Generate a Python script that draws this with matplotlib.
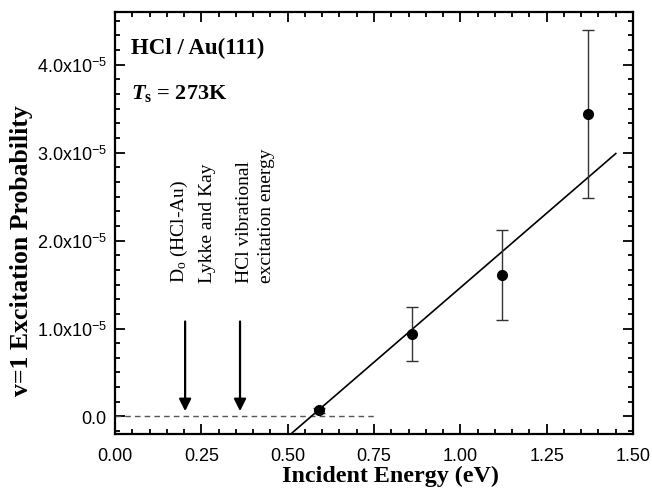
import numpy as np
import matplotlib
matplotlib.use('Agg')
import matplotlib.pyplot as plt
from matplotlib.ticker import MultipleLocator, FixedLocator

plt.rcParams['mathtext.fontset'] = 'custom'
plt.rcParams['mathtext.rm'] = 'Liberation Serif'
plt.rcParams['mathtext.it'] = 'Liberation Serif:italic:bold'
plt.rcParams['mathtext.bf'] = 'Liberation Serif:bold'
plt.rcParams['mathtext.sf'] = 'Liberation Sans'

# data
energy = [0.59, 0.86, 1.12, 1.37]
prob = [0.07e-5, 0.94e-5, 1.61e-5, 3.44e-5]
prob_err = [0.03e-5, 0.31e-5, 0.51e-5, 0.96e-5]

fit_x = [0.50, 1.45]
fit_slope = 3.39e-5
fit_x0 = 0.568

zero_x = [0.0, 0.75]
zero_y = [0.0, 0.0]

arrow_x = [0.203, 0.362]
arrow_top = 1.08e-5
arrow_tip = 0.06e-5

xticks = [0.0, 0.25, 0.5, 0.75, 1.0, 1.25, 1.5]
xtick_labels = ['0.00', '0.25', '0.50', '0.75', '1.00', '1.25', '1.50']
yticks = [0.0, 1e-5, 2e-5, 3e-5, 4e-5]
ytick_labels = ['0.0', r'1.0x10$^{\mathsf{-5}}$', r'2.0x10$^{\mathsf{-5}}$',
                r'3.0x10$^{\mathsf{-5}}$', r'4.0x10$^{\mathsf{-5}}$']

fig = plt.figure(figsize=(6.52, 4.89), dpi=100)
ax = fig.add_axes([0.1764, 0.1104, 0.7945, 0.863])

ax.plot(zero_x, zero_y, color='#555555', ls=(0, (4, 3)), lw=1)
fx = np.array(fit_x)
ax.plot(fx, fit_slope * (fx - fit_x0), color='k', lw=1.2)
ax.errorbar(energy, prob, yerr=prob_err, fmt='o', color='k', ms=7,
            ecolor='#333333', elinewidth=1, capsize=4, capthick=1)

for xa in arrow_x:
    ax.annotate('', xy=(xa, arrow_tip), xytext=(xa, arrow_top),
                arrowprops=dict(arrowstyle='-|>', color='k', lw=1.6,
                                mutation_scale=18, shrinkA=0, shrinkB=0))

ax.text(0.224, 1.53e-5, 'D$_{\\rm o}$ (HCl-Au)\nLykke and Kay', rotation=90,
        ha='center', va='bottom', multialignment='left', fontsize=14,
        family='Liberation Serif', linespacing=1.75)
ax.text(0.407, 1.53e-5, 'HCl vibrational\nexcitation energy', rotation=90,
        ha='center', va='bottom', multialignment='left', fontsize=14,
        family='Liberation Serif', linespacing=1.4)

ax.text(0.03, 0.915, 'HCl / Au(111)', transform=ax.transAxes, fontsize=16.5,
        fontweight='bold', family='Liberation Serif', va='center')
ax.text(0.03, 0.81, r'$\mathit{T}_{\mathbf{s}}$ = 273K', transform=ax.transAxes,
        fontsize=16, fontweight='bold', family='Liberation Serif', va='center')

ax.set_xlim(0, 1.5)
ax.set_ylim(-0.2e-5, 4.6e-5)
ax.xaxis.set_major_locator(FixedLocator(xticks))
ax.set_xticklabels(xtick_labels)
ax.xaxis.set_minor_locator(MultipleLocator(0.05))
ax.yaxis.set_major_locator(FixedLocator(yticks))
ax.set_yticklabels(ytick_labels)
ax.yaxis.set_minor_locator(MultipleLocator(1e-5 / 6))

for lab in ax.get_xticklabels() + ax.get_yticklabels():
    lab.set_family('Liberation Sans')
    lab.set_fontsize(13)

ax.tick_params(which='both', direction='in', top=True, right=True, width=1.3)
ax.tick_params(which='major', length=7, pad=6)
ax.tick_params(axis='x', which='major', pad=9)
ax.tick_params(which='minor', length=3.5)
for s in ax.spines.values():
    s.set_linewidth(1.6)

ax.set_xlabel('Incident Energy (eV)', fontsize=17.3, fontweight='bold',
              family='Liberation Serif')
ax.xaxis.set_label_coords(0.531, -0.074)
ax.set_ylabel('v=1 Excitation Probability', fontsize=18.5, fontweight='bold',
              family='Liberation Serif')
ax.yaxis.set_label_coords(-0.158, 0.436)

fig.savefig('out.png', dpi=100)
